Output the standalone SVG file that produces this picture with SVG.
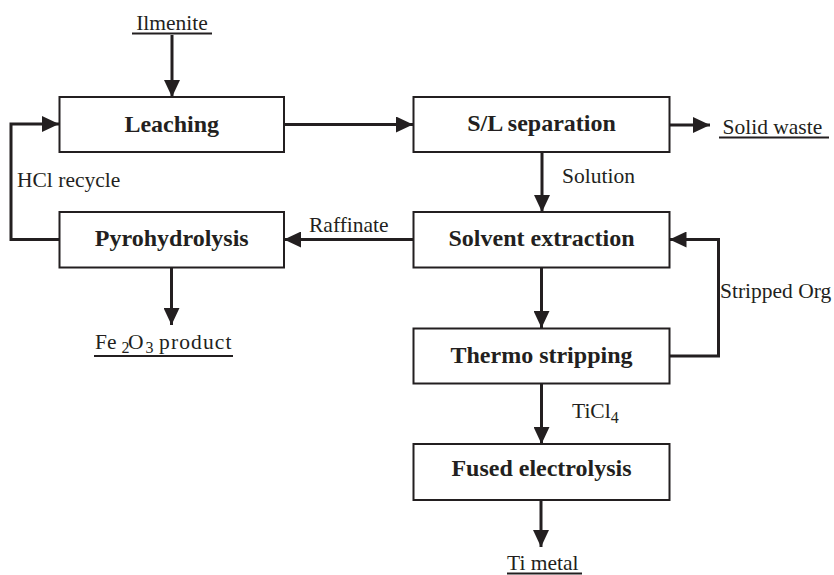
<svg xmlns="http://www.w3.org/2000/svg" width="834" height="575" viewBox="0 0 834 575">
<style>
.box{fill:#fff;stroke:#231f20;stroke-width:2}
.ln{fill:none;stroke:#231f20;stroke-width:3}
.ul{stroke:#231f20;stroke-width:2}
.bt{font-family:"Liberation Serif",serif;font-weight:bold;font-size:24px;fill:#231f20;text-anchor:middle}
.lt{font-family:"Liberation Serif",serif;font-size:21.5px;fill:#231f20}
</style>
<defs>
<marker id="ah" markerUnits="userSpaceOnUse" markerWidth="18" markerHeight="16" refX="17" refY="8" orient="auto" viewBox="0 0 18 16">
<path d="M0,0 L17,8 L0,16 z" fill="#231f20"/>
</marker>
</defs>
<g id="connectors">
<line class="ln" x1="172" y1="35" x2="172" y2="97" marker-end="url(#ah)"/>
<line class="ln" x1="284" y1="124.5" x2="413" y2="124.5" marker-end="url(#ah)"/>
<line class="ln" x1="669" y1="125" x2="710" y2="125" marker-end="url(#ah)"/>
<line class="ln" x1="542" y1="152" x2="542" y2="212" marker-end="url(#ah)"/>
<line class="ln" x1="413" y1="239.5" x2="284" y2="239.5" marker-end="url(#ah)"/>
<polyline class="ln" points="59,239.5 11,239.5 11,124 59,124" marker-end="url(#ah)"/>
<line class="ln" x1="171.5" y1="268" x2="171.5" y2="325" marker-end="url(#ah)"/>
<line class="ln" x1="541.5" y1="267" x2="541.5" y2="328" marker-end="url(#ah)"/>
<polyline class="ln" points="669,356 718.5,356 718.5,239.5 669.5,239.5" marker-end="url(#ah)"/>
<line class="ln" x1="541.5" y1="383" x2="541.5" y2="444" marker-end="url(#ah)"/>
<line class="ln" x1="541" y1="500" x2="541" y2="547" marker-end="url(#ah)"/>
</g>
<g id="leaching"><rect class="box" x="59.5" y="97" width="224.5" height="55"/><text class="bt" x="171.75" y="132">Leaching</text></g>
<g id="sl-separation"><rect class="box" x="413.5" y="97" width="256" height="55"/><text class="bt" x="541.5" y="131">S/L separation</text></g>
<g id="pyrohydrolysis"><rect class="box" x="59.5" y="212" width="224.5" height="55.5"/><text class="bt" x="171.75" y="246">Pyrohydrolysis</text></g>
<g id="solvent-extraction"><rect class="box" x="413.5" y="212" width="256" height="55.5"/><text class="bt" x="541.5" y="246">Solvent extraction</text></g>
<g id="thermo-stripping"><rect class="box" x="413.5" y="328.5" width="256" height="55"/><text class="bt" x="541.5" y="363">Thermo stripping</text></g>
<g id="fused-electrolysis"><rect class="box" x="413.5" y="444" width="256" height="56"/><text class="bt" x="541.5" y="476">Fused electrolysis</text></g>
<g id="labels">
<text class="lt" x="172" y="30" text-anchor="middle">Ilmenite</text>
<line class="ul" x1="132" y1="33.5" x2="212" y2="33.5"/>
<text class="lt" x="722.5" y="134">Solid waste</text>
<line class="ul" x1="719" y1="137.5" x2="829" y2="137.5"/>
<text class="lt" x="562" y="183">Solution</text>
<text class="lt" x="17" y="187">HCl recycle</text>
<text class="lt" x="309" y="232">Raffinate</text>
<text class="lt" x="720" y="298">Stripped Org</text>
<text class="lt" x="95" y="349">Fe<tspan x="121.5" font-size="16" dy="4">2</tspan><tspan x="128" dy="-4">O</tspan><tspan x="145.5" font-size="16" dy="4">3</tspan><tspan x="159" dy="-4" textLength="72.5">product</tspan></text>
<line class="ul" x1="94" y1="356" x2="233" y2="356"/>
<text class="lt" x="572" y="418">TiCl<tspan font-size="16" dy="5">4</tspan></text>
<text class="lt" x="507" y="570">Ti metal</text>
<line class="ul" x1="507" y1="573.5" x2="582" y2="573.5"/>
</g>
</svg>
